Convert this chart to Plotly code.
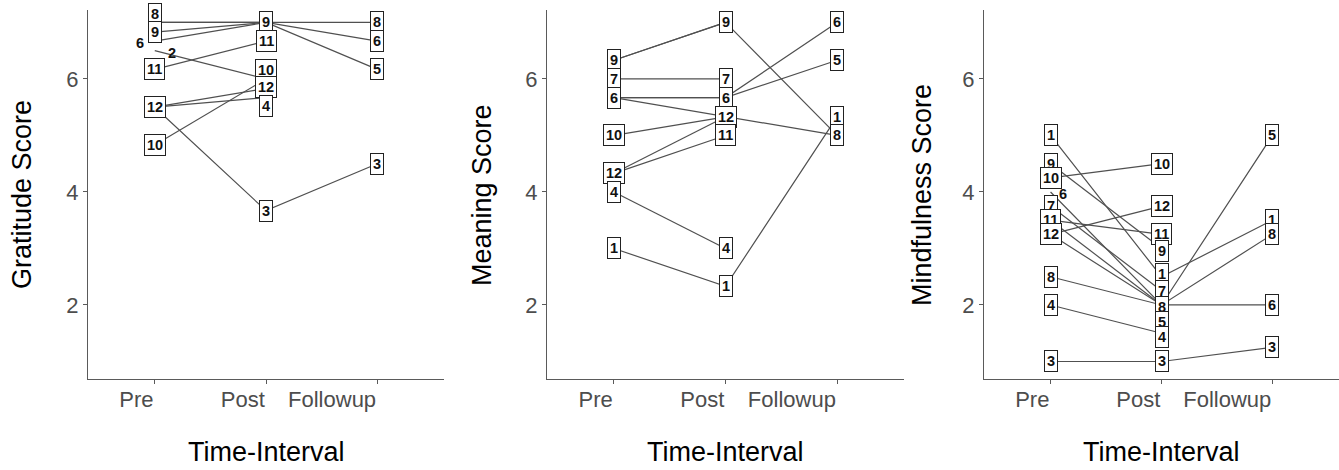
import plotly.graph_objects as go

# ---------------- data ----------------
times = ["Pre", "Post", "Followup"]
subjects = [1, 2, 3, 4, 5, 6, 7, 8, 9, 10, 11, 12]

grat_pre = [None, 6.5, 5.5, 5.5, 7.0, 6.67, None, 7.0, 6.83, 4.83, 6.17, 5.5]
grat_post = [None, 6.0, 3.67, 5.67, 7.0, 7.0, None, 7.0, 7.0, 6.0, 6.67, 5.83]
grat_follow = [None, None, 4.5, None, 6.17, 6.67, None, 7.0, None, None, None, None]

mean_pre = [3.0, None, 5.67, 4.0, 5.67, 5.67, 6.0, 6.33, 6.33, 5.0, 4.33, 4.33]
mean_post = [2.33, None, 5.33, 3.0, 5.67, 5.67, 6.0, 7.0, 7.0, 5.33, 5.0, 5.33]
mean_follow = [5.33, None, 5.0, None, 6.33, 7.0, None, 5.0, None, None, None, None]

mind_pre = [5.0, 3.5, 1.0, 2.0, 3.25, 4.0, 3.75, 2.5, 4.5, 4.25, 3.5, 3.25]
mind_post = [2.5, 2.0, 1.0, 1.5, 2.0, 2.0, 2.25, 2.0, 3.0, 4.5, 3.25, 3.75]
mind_follow = [3.5, None, 1.25, None, 5.0, 2.0, None, 3.25, None, None, None, None]

y_titles = ["Gratitude Score", "Meaning Score", "Mindfulness Score"]
x_title = "Time-Interval"
y_ticks = [2, 4, 6]

# which subject labels are visible at each time (others hidden by label repulsion)
grat_labels = {"Pre": [8, 9, 6, 2, 11, 12, 10], "Post": [9, 11, 10, 12, 4, 3], "Followup": [8, 6, 5, 3]}
mean_labels = {"Pre": [9, 7, 6, 10, 12, 4, 1], "Post": [9, 7, 6, 12, 11, 4, 1], "Followup": [6, 5, 1, 8]}
mind_labels = {"Pre": [1, 9, 10, 6, 7, 11, 12, 8, 4, 3], "Post": [10, 12, 11, 9, 1, 7, 8, 5, 4, 3],
               "Followup": [5, 1, 8, 6, 3]}

# ---------------- label layout (pixel nudges, repel imitation) ----------------
grat_nudge = {("Pre", 8): (0, 8), ("Pre", 6): (-15, -2), ("Pre", 2): (17, -2),
              ("Post", 10): (0, 9), ("Post", 12): (0, 2), ("Post", 4): (0, -8)}
grat_plain = {("Pre", 6), ("Pre", 2)}
mean_nudge = {}
mean_plain = set()
mind_nudge = {("Pre", 6): (12, -2), ("Post", 9): (0, -3), ("Post", 1): (0, 3),
              ("Post", 8): (0, -2), ("Post", 5): (0, -17), ("Post", 4): (0, -4)}
mind_plain = {("Pre", 6)}

panels = [
    (grat_pre, grat_post, grat_follow, grat_labels, grat_nudge, grat_plain),
    (mean_pre, mean_post, mean_follow, mean_labels, mean_nudge, mean_plain),
    (mind_pre, mind_post, mind_follow, mind_labels, mind_nudge, mind_plain),
]

W, H = 1339, 470
x_dom_px = [(88, 444), (547, 904), (984, 1339)]
y_top_px, y_bot_px = 10, 379
FONT = "Liberation Sans, Arial, sans-serif"
LINE_COL = "#505050"
AX_COL = "#5a5a5a"
TICK_COL = "#4d4d4d"

fig = go.Figure()
annotations = []

for i, (pre, post, fol, labs, nudge, plain) in enumerate(panels):
    xa = "x" if i == 0 else f"x{i+1}"
    ya = "y" if i == 0 else f"y{i+1}"
    series = {"Pre": pre, "Post": post, "Followup": fol}
    for k, s in enumerate(subjects):
        ys = [pre[k], post[k], fol[k]]
        if all(v is None for v in ys):
            continue
        fig.add_trace(go.Scatter(x=times, y=ys, mode="lines", xaxis=xa, yaxis=ya,
                                 line=dict(color=LINE_COL, width=1.2), showlegend=False,
                                 hoverinfo="skip", connectgaps=False))
    for t in times:
        for s in labs[t]:
            v = series[t][subjects.index(s)]
            dx, dy = nudge.get((t, s), (0, 0))
            boxed = (t, s) not in plain
            annotations.append(dict(
                x=t, y=v, xref=xa, yref=ya, text=f"<b>{s}</b>", showarrow=False,
                xshift=dx, yshift=dy, xanchor="center", yanchor="middle",
                font=dict(family=FONT, size=14.5, color="#111111"),
                bgcolor="white" if boxed else "rgba(0,0,0,0)",
                bordercolor="#222222" if boxed else "rgba(0,0,0,0)",
                borderwidth=1, borderpad=2))

    x0, x1 = x_dom_px[i]
    ax_common = dict(showline=True, linecolor=AX_COL, linewidth=1.3, ticks="outside",
                     ticklen=4, tickcolor=AX_COL, showgrid=False, zeroline=False,
                     tickfont=dict(family=FONT, size=22, color=TICK_COL))
    fig.update_layout(**{
        ("xaxis" if i == 0 else f"xaxis{i+1}"): dict(
            domain=[x0 / W, x1 / W], anchor=ya, type="category",
            categoryorder="array", categoryarray=times, range=[-0.6, 2.6],
            ticklabelposition="outside left", **ax_common),
        ("yaxis" if i == 0 else f"yaxis{i+1}"): dict(
            domain=[(H - y_bot_px) / H, (H - y_top_px) / H], anchor=xa,
            range=[0.69, 7.22], tickvals=y_ticks, **ax_common),
    })
    # axis titles
    annotations.append(dict(x=((x0 + x1) / 2) / W, y=(H - 452) / H, xref="paper", yref="paper",
                            text=x_title, showarrow=False, xanchor="center", yanchor="middle",
                            font=dict(family=FONT, size=27, color="black")))
    title_x = [22, 482, 922][i]
    annotations.append(dict(x=title_x / W, y=(H - 195) / H, xref="paper", yref="paper",
                            text=y_titles[i], showarrow=False, textangle=-90,
                            xanchor="center", yanchor="middle",
                            font=dict(family=FONT, size=27, color="black")))

fig.update_layout(width=W, height=H, margin=dict(l=0, r=0, t=0, b=0),
                  paper_bgcolor="white", plot_bgcolor="white",
                  annotations=annotations, showlegend=False)

fig.write_html("out.html", config={"displayModeBar": False},
               post_script="document.body.style.margin='0px';document.body.style.overflow='hidden';")
